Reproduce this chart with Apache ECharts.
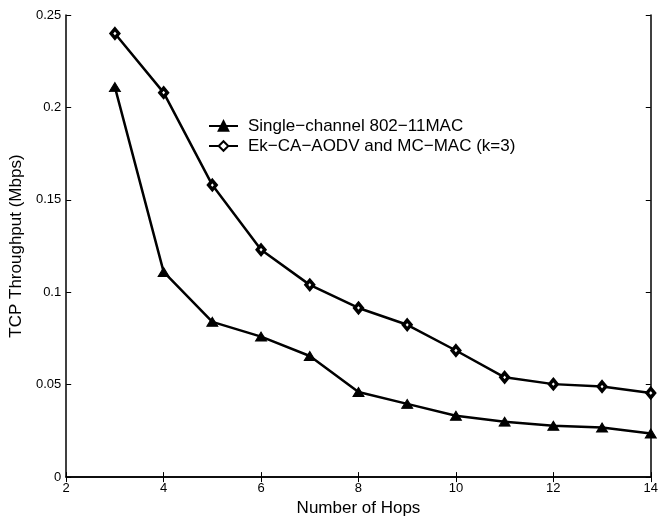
<!DOCTYPE html>
<html>
<head>
<meta charset="utf-8">
<script src="https://cdn.jsdelivr.net/npm/echarts@6/dist/echarts.min.js"></script>
<style>html,body{margin:0;padding:0;background:#fff;}#c{width:661px;height:522px;}</style>
</head>
<body>
<div id="c"></div>
<script>
const hops = [3, 4, 5, 6, 7, 8, 9, 10, 11, 12, 13, 14];
const singleChannel = [0.211, 0.111, 0.084, 0.076, 0.0655, 0.046, 0.0396, 0.0332, 0.030, 0.0278, 0.0268, 0.0236];
const ekCaAodv = [0.240, 0.208, 0.158, 0.123, 0.104, 0.0915, 0.0824, 0.0685, 0.054, 0.0503, 0.0490, 0.0455];
const seriesNames = ['Single\u2212channel 802\u221211MAC', 'Ek\u2212CA\u2212AODV and MC\u2212MAC (k=3)'];

const font = 'Liberation Sans, Arial, Helvetica, sans-serif';
const chart = echarts.init(document.getElementById('c'), null, {renderer: 'canvas'});
const axisLine = {show: true, lineStyle: {color: '#000', width: 1.5}};
const tick = {show: true, inside: true, length: 5, lineStyle: {color: '#000', width: 1}};
chart.setOption({
  animation: false,
  backgroundColor: '#fff',
  grid: {left: 62, right: 3, top: 15, bottom: 39, containLabel: false},
  legend: {
    left: 203, top: 111, orient: 'vertical', itemGap: 0,
    itemWidth: 29, itemHeight: 12,
    textStyle: {fontFamily: font, fontSize: 17, color: '#000', lineHeight: 20, padding: [0, 0, 0, 5]},
    data: seriesNames
  },
  xAxis: [{
    type: 'value', min: 2, max: 14, interval: 2,
    name: 'Number of Hops', nameLocation: 'middle', nameGap: 20,
    nameTextStyle: {fontFamily: font, fontSize: 17, color: '#000'},
    axisLine: axisLine, axisTick: tick, splitLine: {show: false},
    axisLabel: {fontFamily: font, fontSize: 13, color: '#000', margin: 5}
  }, {
    type: 'value', position: 'top', min: 2, max: 14, interval: 2,
    axisLine: axisLine, axisTick: tick, splitLine: {show: false}, axisLabel: {show: false}
  }],
  yAxis: [{
    type: 'value', min: 0, max: 0.25, interval: 0.05,
    name: 'TCP Throughput (Mbps)', nameLocation: 'middle', nameGap: 34,
    nameTextStyle: {fontFamily: font, fontSize: 17, color: '#000'},
    axisLine: axisLine, axisTick: tick, splitLine: {show: false},
    axisLabel: {fontFamily: font, fontSize: 13, color: '#000', margin: 5}
  }, {
    type: 'value', position: 'right', min: 0, max: 0.25, interval: 0.05,
    axisLine: axisLine, axisTick: tick, splitLine: {show: false}, axisLabel: {show: false}
  }],
  series: [{
    name: seriesNames[0], type: 'line',
    data: hops.map((h, i) => [h, singleChannel[i]]),
    symbol: 'triangle', symbolSize: [11, 9],
    lineStyle: {color: '#000', width: 2.5},
    itemStyle: {color: '#000', borderColor: '#000', borderWidth: 1}
  }, {
    name: seriesNames[1], type: 'line',
    data: hops.map((h, i) => [h, ekCaAodv[i]]),
    symbol: 'diamond', symbolSize: [7.5, 9],
    lineStyle: {color: '#000', width: 2.5},
    itemStyle: {color: '#fff', borderColor: '#000', borderWidth: 3.5}
  }]
});
</script>
</body>
</html>
